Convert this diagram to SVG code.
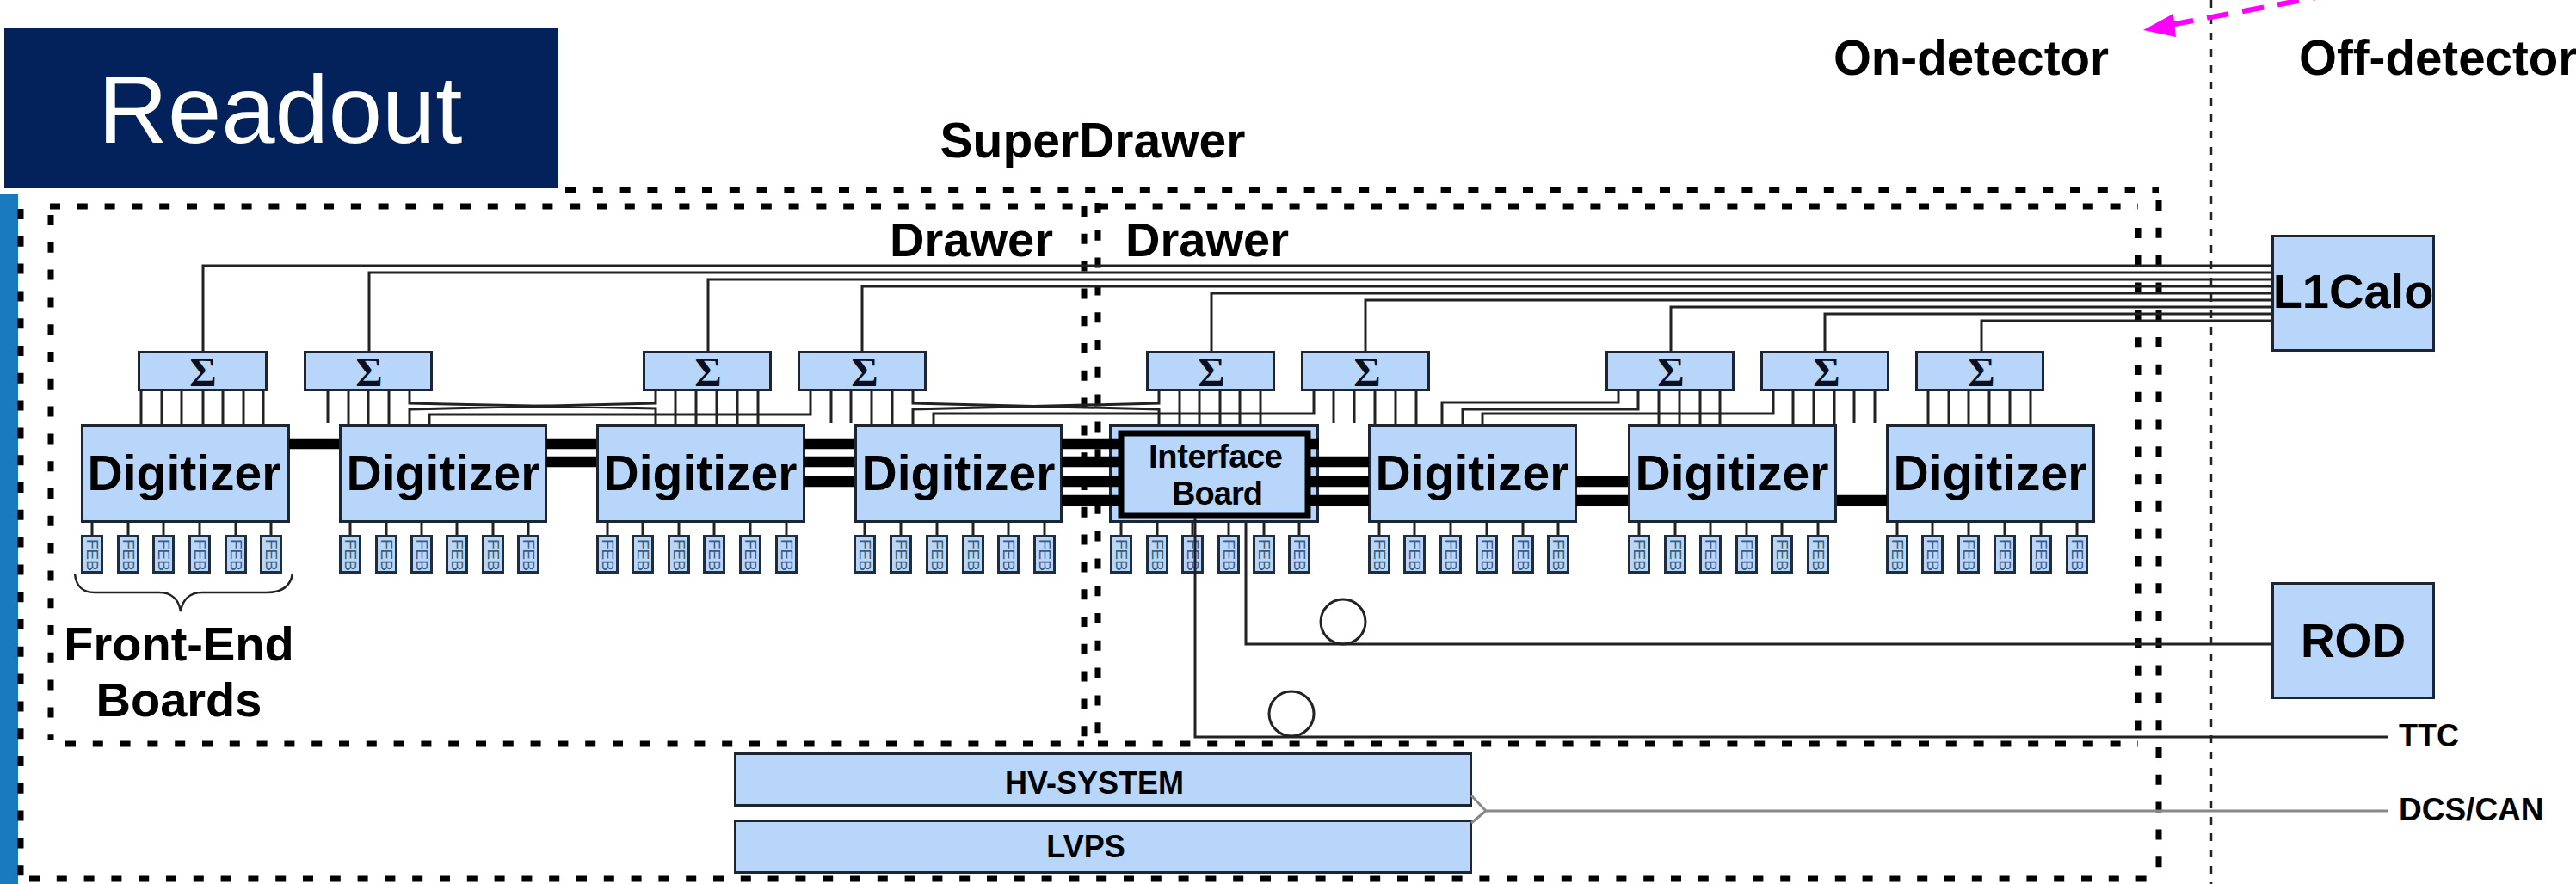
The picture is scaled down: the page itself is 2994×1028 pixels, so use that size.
<svg xmlns="http://www.w3.org/2000/svg" width="2994" height="1028" viewBox="0 0 2994 1028">
<style>
text{font-family:"Liberation Sans",Arial,sans-serif;fill:#000}
.b{font-weight:bold}
.m{text-anchor:middle}
.n{fill:#b8d6fa;stroke:#1c2533;stroke-width:3}
.f{fill:#b8d6fa;stroke:#1f2d3f;stroke-width:3}
.d{fill:none;stroke:#000;stroke-width:7;stroke-dasharray:12 19.8}
.w{fill:none;stroke:#222;stroke-width:3}
.h{fill:none;stroke:#000;stroke-width:12.5}
.s{font-family:"Liberation Serif","Times New Roman",serif;font-weight:bold;font-size:48px;text-anchor:middle;fill:#0a1020}
.g{font-weight:bold;font-size:57px;text-anchor:middle}
.fe{font-size:19px;fill:#3d5a80}
.sm{font-size:36px;font-weight:bold;text-anchor:middle}
</style>
<rect width="2994" height="1028" fill="#fff"/>
<g id="frames">
<line x1="657" y1="221" x2="2509" y2="221" class="d"/>
<line x1="34" y1="1022" x2="2509" y2="1022" class="d"/>
<rect id="stripe" x="0" y="226" width="21" height="802" fill="#1a7abf"/>
<line x1="24" y1="243" x2="24" y2="1020" class="d"/>
<line x1="2509" y1="233" x2="2509" y2="1015" class="d"/>
<line x1="58" y1="240" x2="1260" y2="240" class="d"/>
<line x1="76" y1="865" x2="1260" y2="865" class="d"/>
<line x1="59" y1="250" x2="59" y2="860" class="d"/>
<line x1="1260" y1="240" x2="1260" y2="860" class="d"/>
<line x1="1276" y1="240" x2="2485" y2="240" class="d"/>
<line x1="1276" y1="865" x2="2485" y2="865" class="d"/>
<line x1="1276" y1="236" x2="1276" y2="860" class="d"/>
<line x1="2485" y1="265" x2="2485" y2="860" class="d"/>
<line x1="2570" y1="0" x2="2570" y2="1028" fill="none" stroke="#222" stroke-width="2.5" stroke-dasharray="9 10"/>
</g>
<g id="readout"><rect x="5" y="32" width="644" height="187" fill="#03215a"/><text x="114" y="166" font-size="112" style="fill:#fff">Readout</text></g>
<g id="labels" class="b">
<text x="1270" y="183" font-size="57" class="m">SuperDrawer</text>
<text x="1129" y="298" font-size="56" class="m">Drawer</text>
<text x="1403" y="298" font-size="56" class="m">Drawer</text>
<text x="2291" y="87" font-size="56.5" class="m">On-detector</text>
<text x="2672" y="87" font-size="56.5">Off-detector</text>
<text x="208" y="768" font-size="56" class="m">Front-End</text>
<text x="208" y="833" font-size="56" class="m">Boards</text>
<text x="2788" y="868" font-size="36">TTC</text>
<text x="2788" y="954" font-size="37">DCS/CAN</text>
</g>
<path id="brace" d="M87 667C88 680 95 689 110 689L185 689C200 689 208 698 210 711C212 698 220 689 235 689L310 689C330 689 338 680 340 667" fill="none" stroke="#222" stroke-width="2.5"/>
<g id="digitizer-1"><rect class="n" x="95.500" y="494.500" width="240" height="112"/><text class="g" x="214" y="570">Digitizer</text></g>
<g id="digitizer-2"><rect class="n" x="395.500" y="494.500" width="239" height="112"/><text class="g" x="515" y="570">Digitizer</text></g>
<g id="digitizer-3"><rect class="n" x="694.500" y="494.500" width="240" height="112"/><text class="g" x="814" y="570">Digitizer</text></g>
<g id="digitizer-4"><rect class="n" x="994.500" y="494.500" width="239" height="112"/><text class="g" x="1114" y="570">Digitizer</text></g>
<g id="interface-board"><rect class="n" x="1290.500" y="494.500" width="241" height="112"/><rect x="1303" y="504" width="217" height="95" fill="#b8d6fa" stroke="#000" stroke-width="7"/><text class="b m" x="1413" y="544" font-size="38" textLength="156">Interface</text><text class="b m" x="1415" y="587" font-size="38" textLength="106">Board</text></g>
<g id="digitizer-5"><rect class="n" x="1591.500" y="494.500" width="240" height="112"/><text class="g" x="1711" y="570">Digitizer</text></g>
<g id="digitizer-6"><rect class="n" x="1893.500" y="494.500" width="240" height="112"/><text class="g" x="2013" y="570">Digitizer</text></g>
<g id="digitizer-7"><rect class="n" x="2193.500" y="494.500" width="240" height="112"/><text class="g" x="2313" y="570">Digitizer</text></g>
<g id="sum-1"><rect class="n" x="161.500" y="409.500" width="148" height="44"/><text class="s" x="236" y="449">Σ</text></g>
<g id="sum-2"><rect class="n" x="354.500" y="409.500" width="147" height="44"/><text class="s" x="429" y="449">Σ</text></g>
<g id="sum-3"><rect class="n" x="748.500" y="409.500" width="147" height="44"/><text class="s" x="823" y="449">Σ</text></g>
<g id="sum-4"><rect class="n" x="928.500" y="409.500" width="147" height="44"/><text class="s" x="1005" y="449">Σ</text></g>
<g id="sum-5"><rect class="n" x="1333.500" y="409.500" width="147" height="44"/><text class="s" x="1408" y="449">Σ</text></g>
<g id="sum-6"><rect class="n" x="1513.500" y="409.500" width="147" height="44"/><text class="s" x="1589" y="449">Σ</text></g>
<g id="sum-7"><rect class="n" x="1867.500" y="409.500" width="147" height="44"/><text class="s" x="1942" y="449">Σ</text></g>
<g id="sum-8"><rect class="n" x="2047.500" y="409.500" width="147" height="44"/><text class="s" x="2123" y="449">Σ</text></g>
<g id="sum-9"><rect class="n" x="2227.500" y="409.500" width="147" height="44"/><text class="s" x="2303" y="449">Σ</text></g>
<g id="l1calo"><rect class="n" x="2641.500" y="274.500" width="187" height="133"/><text class="b m" x="2735" y="358" font-size="56">L1Calo</text></g>
<g id="rod"><rect class="n" x="2641.500" y="678.500" width="187" height="133"/><text class="b m" x="2735" y="764" font-size="55">ROD</text></g>
<g id="hv-system"><rect class="n" x="854.500" y="876.500" width="855" height="60"/><text class="sm" x="1272" y="923">HV-SYSTEM</text></g>
<g id="lvps"><rect class="n" x="854.500" y="954.500" width="855" height="60"/><text class="sm" x="1262" y="997">LVPS</text></g>
<g id="feb-1-1"><path class="w" d="M107 608V622"/><rect class="f" x="95.500" y="623.500" width="23" height="42"/><text class="fe" transform="translate(101 627) rotate(90)">FEB</text></g>
<g id="feb-1-2"><path class="w" d="M149 608V622"/><rect class="f" x="137.500" y="623.500" width="23" height="42"/><text class="fe" transform="translate(143 627) rotate(90)">FEB</text></g>
<g id="feb-1-3"><path class="w" d="M190 608V622"/><rect class="f" x="178.500" y="623.500" width="23" height="42"/><text class="fe" transform="translate(184 627) rotate(90)">FEB</text></g>
<g id="feb-1-4"><path class="w" d="M232 608V622"/><rect class="f" x="220.500" y="623.500" width="23" height="42"/><text class="fe" transform="translate(226 627) rotate(90)">FEB</text></g>
<g id="feb-1-5"><path class="w" d="M274 608V622"/><rect class="f" x="262.500" y="623.500" width="23" height="42"/><text class="fe" transform="translate(268 627) rotate(90)">FEB</text></g>
<g id="feb-1-6"><path class="w" d="M315 608V622"/><rect class="f" x="303.500" y="623.500" width="23" height="42"/><text class="fe" transform="translate(309 627) rotate(90)">FEB</text></g>
<g id="feb-2-1"><path class="w" d="M407 608V622"/><rect class="f" x="395.500" y="623.500" width="23" height="42"/><text class="fe" transform="translate(401 627) rotate(90)">FEB</text></g>
<g id="feb-2-2"><path class="w" d="M449 608V622"/><rect class="f" x="437.500" y="623.500" width="23" height="42"/><text class="fe" transform="translate(443 627) rotate(90)">FEB</text></g>
<g id="feb-2-3"><path class="w" d="M490 608V622"/><rect class="f" x="478.500" y="623.500" width="23" height="42"/><text class="fe" transform="translate(484 627) rotate(90)">FEB</text></g>
<g id="feb-2-4"><path class="w" d="M531 608V622"/><rect class="f" x="519.500" y="623.500" width="23" height="42"/><text class="fe" transform="translate(525 627) rotate(90)">FEB</text></g>
<g id="feb-2-5"><path class="w" d="M573 608V622"/><rect class="f" x="561.500" y="623.500" width="23" height="42"/><text class="fe" transform="translate(567 627) rotate(90)">FEB</text></g>
<g id="feb-2-6"><path class="w" d="M614 608V622"/><rect class="f" x="602.500" y="623.500" width="23" height="42"/><text class="fe" transform="translate(608 627) rotate(90)">FEB</text></g>
<g id="feb-3-1"><path class="w" d="M706 608V622"/><rect class="f" x="694.500" y="623.500" width="23" height="42"/><text class="fe" transform="translate(700 627) rotate(90)">FEB</text></g>
<g id="feb-3-2"><path class="w" d="M747 608V622"/><rect class="f" x="735.500" y="623.500" width="23" height="42"/><text class="fe" transform="translate(741 627) rotate(90)">FEB</text></g>
<g id="feb-3-3"><path class="w" d="M789 608V622"/><rect class="f" x="777.500" y="623.500" width="23" height="42"/><text class="fe" transform="translate(783 627) rotate(90)">FEB</text></g>
<g id="feb-3-4"><path class="w" d="M830 608V622"/><rect class="f" x="818.500" y="623.500" width="23" height="42"/><text class="fe" transform="translate(824 627) rotate(90)">FEB</text></g>
<g id="feb-3-5"><path class="w" d="M872 608V622"/><rect class="f" x="860.500" y="623.500" width="23" height="42"/><text class="fe" transform="translate(866 627) rotate(90)">FEB</text></g>
<g id="feb-3-6"><path class="w" d="M914 608V622"/><rect class="f" x="902.500" y="623.500" width="23" height="42"/><text class="fe" transform="translate(908 627) rotate(90)">FEB</text></g>
<g id="feb-4-1"><path class="w" d="M1005 608V622"/><rect class="f" x="993.500" y="623.500" width="23" height="42"/><text class="fe" transform="translate(999 627) rotate(90)">FEB</text></g>
<g id="feb-4-2"><path class="w" d="M1047 608V622"/><rect class="f" x="1035.500" y="623.500" width="23" height="42"/><text class="fe" transform="translate(1041 627) rotate(90)">FEB</text></g>
<g id="feb-4-3"><path class="w" d="M1089 608V622"/><rect class="f" x="1077.500" y="623.500" width="23" height="42"/><text class="fe" transform="translate(1083 627) rotate(90)">FEB</text></g>
<g id="feb-4-4"><path class="w" d="M1131 608V622"/><rect class="f" x="1119.500" y="623.500" width="23" height="42"/><text class="fe" transform="translate(1125 627) rotate(90)">FEB</text></g>
<g id="feb-4-5"><path class="w" d="M1172 608V622"/><rect class="f" x="1160.500" y="623.500" width="23" height="42"/><text class="fe" transform="translate(1166 627) rotate(90)">FEB</text></g>
<g id="feb-4-6"><path class="w" d="M1214 608V622"/><rect class="f" x="1202.500" y="623.500" width="23" height="42"/><text class="fe" transform="translate(1208 627) rotate(90)">FEB</text></g>
<g id="feb-5-1"><path class="w" d="M1303 608V622"/><rect class="f" x="1291.500" y="623.500" width="23" height="42"/><text class="fe" transform="translate(1297 627) rotate(90)">FEB</text></g>
<g id="feb-5-2"><path class="w" d="M1345 608V622"/><rect class="f" x="1333.500" y="623.500" width="23" height="42"/><text class="fe" transform="translate(1339 627) rotate(90)">FEB</text></g>
<g id="feb-5-3"><path class="w" d="M1386 608V622"/><rect class="f" x="1374.500" y="623.500" width="23" height="42"/><text class="fe" transform="translate(1380 627) rotate(90)">FEB</text></g>
<g id="feb-5-4"><path class="w" d="M1428 608V622"/><rect class="f" x="1416.500" y="623.500" width="23" height="42"/><text class="fe" transform="translate(1422 627) rotate(90)">FEB</text></g>
<g id="feb-5-5"><path class="w" d="M1469 608V622"/><rect class="f" x="1457.500" y="623.500" width="23" height="42"/><text class="fe" transform="translate(1463 627) rotate(90)">FEB</text></g>
<g id="feb-5-6"><path class="w" d="M1510 608V622"/><rect class="f" x="1498.500" y="623.500" width="23" height="42"/><text class="fe" transform="translate(1504 627) rotate(90)">FEB</text></g>
<g id="feb-6-1"><path class="w" d="M1603 608V622"/><rect class="f" x="1591.500" y="623.500" width="23" height="42"/><text class="fe" transform="translate(1597 627) rotate(90)">FEB</text></g>
<g id="feb-6-2"><path class="w" d="M1644 608V622"/><rect class="f" x="1632.500" y="623.500" width="23" height="42"/><text class="fe" transform="translate(1638 627) rotate(90)">FEB</text></g>
<g id="feb-6-3"><path class="w" d="M1686 608V622"/><rect class="f" x="1674.500" y="623.500" width="23" height="42"/><text class="fe" transform="translate(1680 627) rotate(90)">FEB</text></g>
<g id="feb-6-4"><path class="w" d="M1728 608V622"/><rect class="f" x="1716.500" y="623.500" width="23" height="42"/><text class="fe" transform="translate(1722 627) rotate(90)">FEB</text></g>
<g id="feb-6-5"><path class="w" d="M1770 608V622"/><rect class="f" x="1758.500" y="623.500" width="23" height="42"/><text class="fe" transform="translate(1764 627) rotate(90)">FEB</text></g>
<g id="feb-6-6"><path class="w" d="M1811 608V622"/><rect class="f" x="1799.500" y="623.500" width="23" height="42"/><text class="fe" transform="translate(1805 627) rotate(90)">FEB</text></g>
<g id="feb-7-1"><path class="w" d="M1905 608V622"/><rect class="f" x="1893.500" y="623.500" width="23" height="42"/><text class="fe" transform="translate(1899 627) rotate(90)">FEB</text></g>
<g id="feb-7-2"><path class="w" d="M1947 608V622"/><rect class="f" x="1935.500" y="623.500" width="23" height="42"/><text class="fe" transform="translate(1941 627) rotate(90)">FEB</text></g>
<g id="feb-7-3"><path class="w" d="M1988 608V622"/><rect class="f" x="1976.500" y="623.500" width="23" height="42"/><text class="fe" transform="translate(1982 627) rotate(90)">FEB</text></g>
<g id="feb-7-4"><path class="w" d="M2030 608V622"/><rect class="f" x="2018.500" y="623.500" width="23" height="42"/><text class="fe" transform="translate(2024 627) rotate(90)">FEB</text></g>
<g id="feb-7-5"><path class="w" d="M2071 608V622"/><rect class="f" x="2059.500" y="623.500" width="23" height="42"/><text class="fe" transform="translate(2065 627) rotate(90)">FEB</text></g>
<g id="feb-7-6"><path class="w" d="M2113 608V622"/><rect class="f" x="2101.500" y="623.500" width="23" height="42"/><text class="fe" transform="translate(2107 627) rotate(90)">FEB</text></g>
<g id="feb-8-1"><path class="w" d="M2205 608V622"/><rect class="f" x="2193.500" y="623.500" width="23" height="42"/><text class="fe" transform="translate(2199 627) rotate(90)">FEB</text></g>
<g id="feb-8-2"><path class="w" d="M2246 608V622"/><rect class="f" x="2234.500" y="623.500" width="23" height="42"/><text class="fe" transform="translate(2240 627) rotate(90)">FEB</text></g>
<g id="feb-8-3"><path class="w" d="M2288 608V622"/><rect class="f" x="2276.500" y="623.500" width="23" height="42"/><text class="fe" transform="translate(2282 627) rotate(90)">FEB</text></g>
<g id="feb-8-4"><path class="w" d="M2330 608V622"/><rect class="f" x="2318.500" y="623.500" width="23" height="42"/><text class="fe" transform="translate(2324 627) rotate(90)">FEB</text></g>
<g id="feb-8-5"><path class="w" d="M2372 608V622"/><rect class="f" x="2360.500" y="623.500" width="23" height="42"/><text class="fe" transform="translate(2366 627) rotate(90)">FEB</text></g>
<g id="feb-8-6"><path class="w" d="M2414 608V622"/><rect class="f" x="2402.500" y="623.500" width="23" height="42"/><text class="fe" transform="translate(2408 627) rotate(90)">FEB</text></g>
<g id="connectors">
<path class="h" d="M336 516H394M635 516H693M635 537H693M935 516H993M935 537H993M935 560H993M1234 516H1303M1234 537H1303M1234 560H1303M1234 582H1303M1520 516H1533M1520 537H1591M1520 560H1591M1520 582H1591M1832 560H1892M1832 582H1892M2135 582H2193"/>
<path class="w" d="M236 408V309H2640M429 408V317H2640M823 408V325H2640M1002 408V333H2640M1408 408V341H2640M1587 408V349H2640M1942 408V357H2640M2121 408V365H2640M2303 408V373H2640"/>
<path class="w" d="M164 453V493M188 453V493M211 453V493M236 453V493M259 453V493M283 453V493M306 453V493M381 453V492M405 453V493M428 453V493M452 453V493"/>
<path class="w" d="M476 453V469L762 475V493M476 493V476L762 469V453M499 493V482H942V453M785 453V493M809 453V493M833 453V493M857 453V493M881 453V493M966 453V492M989 453V492M1013 453V493M1037 453V493"/>
<path class="w" d="M1061 453V469L1347 476V493M1061 493V476L1347 469V453M1085 493V481H1527V453M1371 453V493M1394 453V493M1418 453V493M1441 453V493M1465 453V493M1550 453V492M1574 453V492M1598 453V493M1622 453V493M1646 453V493"/>
<path class="w" d="M1676 493V468H1881V453M1700 493V476H1904V453M1723 493V481H2061V453M1928 453V493M1952 453V493M1976 453V493M1999 453V493M2084 453V493M2108 453V493M2132 453V493M2155 453V492M2179 453V492M2241 453V493M2265 453V493M2288 453V493M2312 453V493M2336 453V493M2360 453V493"/>
<path class="w" d="M1448 608V749H2640"/>
<path class="w" d="M1389 602V857H2775" stroke-width="4"/>
<circle cx="1561" cy="723" r="26" class="w"/>
<circle cx="1501" cy="830" r="26" class="w"/>
<path d="M1710 925L1727 943L1710 957M1727 943H2775" fill="none" stroke="#888" stroke-width="3"/>
<path d="M2713 -7L2525 28.500" fill="none" stroke="#f0f" stroke-width="6" stroke-dasharray="25.400 16.300"/>
<polygon points="2491,35 2526,16 2529,43" fill="#f0f"/>
</g>
</svg>
